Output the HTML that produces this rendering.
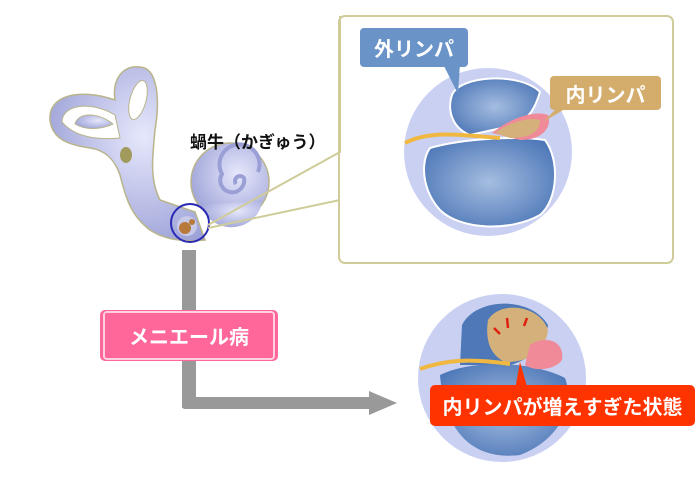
<!DOCTYPE html>
<html><head><meta charset="utf-8"><style>
body{margin:0;background:#fff;width:700px;height:480px;overflow:hidden;font-family:"Liberation Sans","Noto Sans CJK JP",sans-serif}
.abs{position:absolute}
.lbl{position:absolute;color:#fff;font-weight:bold;display:flex;align-items:center;justify-content:center;box-sizing:border-box}
</style></head><body>
<svg class="abs" style="left:0;top:0" width="700" height="480" viewBox="0 0 700 480">
<defs>
<radialGradient id="ear" cx="0.6" cy="0.4" r="0.7"><stop offset="0" stop-color="#e6e8fb"/><stop offset="1" stop-color="#9a9fd6"/></radialGradient>
<radialGradient id="bl" cx="0.5" cy="0.5" r="0.6"><stop offset="0" stop-color="#a5bde0"/><stop offset="1" stop-color="#4e78b8"/></radialGradient>
</defs>
<!-- ear -->
<path d="M50,120 C48,95 80,88 115,100 C112,80 122,65 140,67 C158,68 160,100 155,130 C152,160 150,180 160,200 L195,212 L205,240 C185,242 165,240 150,230 C130,215 125,195 120,175 C115,160 105,150 90,148 C70,145 52,140 50,120 Z" fill="url(#ear)" stroke="#b9b48a" stroke-width="1.5"/>
<path d="M62,122 C62,105 90,100 115,115 L120,138 C100,140 75,138 62,122 Z" fill="#fff" stroke="#b9b48a"/>
<path d="M75,124 C78,112 98,112 113,124 C100,130 85,130 75,124 Z" fill="url(#ear)" stroke="#b9b48a"/>
<ellipse cx="138" cy="100" rx="8" ry="20" transform="rotate(15 138 100)" fill="#fff" stroke="#b9b48a"/>
<ellipse cx="126" cy="155" rx="6" ry="8" fill="#a09a5c"/>
<circle cx="230" cy="182" r="39" fill="url(#ear)" stroke="#b9b48a" stroke-width="1.5"/>
<path d="M200,205 C215,240 260,230 262,200" fill="url(#ear)"/>
<path d="M236,184 a5,5 0 1 1 8,-6 a12,12 0 1 1 -22,-4 a20,20 0 1 1 36,-2" fill="none" stroke="#9a9fd6" stroke-width="4"/>
<circle cx="190" cy="223" r="19" fill="none" stroke="#2a2ab5" stroke-width="2"/>
<circle cx="187" cy="226" r="10" fill="#c7c9e8"/>
<circle cx="185" cy="228" r="6" fill="#b87a3a"/>
<circle cx="192" cy="222" r="3" fill="#b87a3a"/>
<!-- callout lines -->
<polyline points="208,225 340,152 340,16" fill="none" stroke="#cfcc9a" stroke-width="2"/>
<polyline points="208,228 340,200" fill="none" stroke="#cfcc9a" stroke-width="2"/>
<rect x="339" y="16" width="334" height="247" rx="6" fill="none" stroke="#cfcc9a" stroke-width="2"/>
<!-- top circle -->
<circle cx="488" cy="152" r="84" fill="#c9d0f2"/>
<path d="M452,95 C460,75 520,72 540,92 C535,108 530,118 515,125 L470,135 C452,128 447,110 452,95 Z" fill="url(#bl)" stroke="#fff" stroke-width="2"/>
<path d="M430,148 C465,138 520,136 545,140 C560,160 558,200 540,215 C510,232 460,230 440,210 C422,190 420,162 430,148 Z" fill="url(#bl)" stroke="#fff" stroke-width="2"/>
<path d="M492,133 C510,118 535,110 548,115 C552,125 545,140 520,140 Z" fill="#f08a99"/>
<path d="M495,133 C510,122 528,117 540,120 C540,132 530,138 510,138 Z" fill="#d4b07a"/>
<path d="M405,143 C430,130 460,135 500,138" fill="none" stroke="#f0b840" stroke-width="4"/>
<!-- bottom circle -->
<circle cx="502" cy="378" r="84" fill="#c9d0f2"/>
<path d="M462,325 C475,298 530,295 548,325 C545,345 530,360 510,365 L460,365 Z" fill="#4e78b8"/>
<path d="M440,375 C470,360 530,360 565,378 C575,405 560,440 520,455 C480,460 445,440 440,375 Z" fill="url(#bl)"/>
<path d="M488,320 C500,300 540,305 548,330 C545,352 530,362 505,362 C490,355 485,340 488,320 Z" fill="#d4b07a"/>
<path d="M530,345 C545,335 565,340 562,360 C555,370 535,372 525,365 Z" fill="#f08a99"/>
<path d="M420,369 C445,360 470,358 510,364" fill="none" stroke="#f0b840" stroke-width="4"/>
<g stroke="#e02010" stroke-width="2.5" fill="#e02010">
<line x1="500" y1="334" x2="494" y2="328"/><line x1="508" y1="328" x2="507" y2="318"/><line x1="524" y1="326" x2="527" y2="318"/>
</g>
<!-- connectors -->
<rect x="182" y="250" width="14" height="158" fill="#999"/>
<rect x="182" y="397" width="190" height="12" rx="3" fill="#999"/>
<polygon points="369,391 397,403 369,415" fill="#999"/>
<!-- bubbles tails -->
<polygon points="443,64 460,64 458,94" fill="#6a94c8"/>
<polygon points="565,100 580,100 543,122" fill="#d4ad6c"/>
<polygon points="515,390 528,390 520,362" fill="#ff3300"/>
</svg>
<div class="abs" style="left:190px;top:128px;font-size:17px;font-weight:bold;color:#111">蝸牛（かぎゅう）</div>
<div class="lbl" style="left:360px;top:28px;width:108px;height:39px;background:#6a94c8;border-radius:4px;font-size:20px">外リンパ</div>
<div class="lbl" style="left:550px;top:76px;width:111px;height:34px;background:#d4ad6c;border-radius:4px;font-size:20px">内リンパ</div>
<div class="lbl" style="left:100px;top:310px;width:178px;height:51px;background:#ff6699;border-radius:5px;font-size:20px;padding:3px"><div style="border:2px solid #ffd0e0;border-radius:4px;width:100%;height:100%;display:flex;align-items:center;justify-content:center">メニエール病</div></div>
<div class="lbl" style="left:430px;top:385px;width:265px;height:41px;background:#ff3300;border-radius:5px;font-size:20px">内リンパが増えすぎた状態</div>
</body></html>
